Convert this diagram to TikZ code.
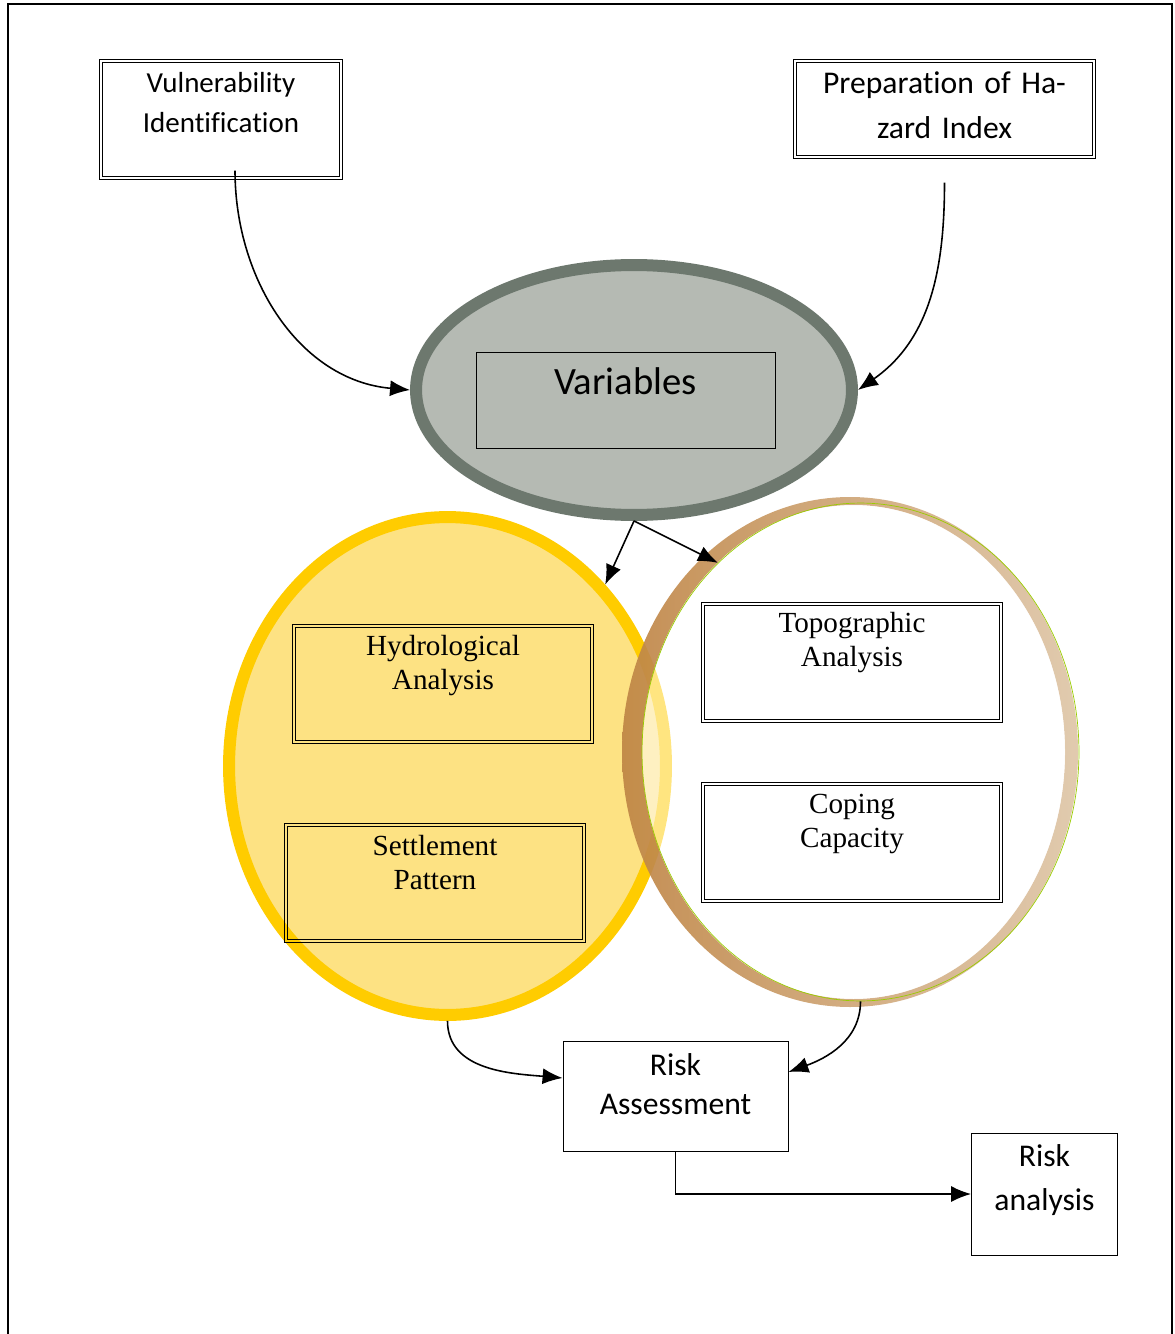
\documentclass[tikz,border=0pt]{standalone}
\usepackage{fontspec}
\setmainfont{Carlito}[Ligatures=NoCommon]
\newfontfamily\timesfont{Liberation Serif}
\usetikzlibrary{positioning, shapes.geometric, arrows.meta}
\definecolor{varfill}{HTML}{B5BAB3}
\definecolor{varline}{HTML}{6D786E}
\definecolor{hydfill}{HTML}{FDE283}
\definecolor{hydline}{HTML}{FFCC00}
\definecolor{ringbrown}{HTML}{BF8545}
\definecolor{ringtan}{HTML}{DEC6A8}
\definecolor{ringgreen}{HTML}{99CC00}
\tikzset{line/.style={draw, line width=0.9pt, -{Latex[length=4mm, width=3.2mm]}}}

\begin{document}
\begin{tikzpicture}[x=0.02cm, y=-0.02cm]
\tikzstyle{dblock} = [rectangle, draw, line width=0.6pt, align=center, inner sep=0pt]
\tikzstyle{block} = [rectangle, draw, line width=0.5pt, align=center, inner sep=0pt]
\tikzstyle{oval} = [ellipse, inner sep=0pt]
\tikzstyle{sans} = [font=\fontsize{18}{25.6}\selectfont]
\tikzstyle{serif} = [font=\timesfont\fontsize{16.6}{19.8}\selectfont]

\useasboundingbox (0,0) rectangle (1175,1334);
\draw[line width=1.1pt] (8,1334) -- (8,4) -- (1172,4) -- (1172,1334);

% the two overlapping circles
\node[oval, fill=hydfill, draw=hydline, line width=0.24cm, minimum width=8.74cm, minimum height=9.96cm] (hydcirc) at (447.5,766) {};
\path[left color=ringbrown, middle color=ringbrown, right color=ringtan, even odd rule, fill opacity=0.92]
  (850,752) ellipse [x radius=228, y radius=255]
  (853.5,752) ellipse [x radius=211.5, y radius=247];
\path[fill=white, fill opacity=0.5] (853.5,752) ellipse [x radius=211.5, y radius=247];
\node[oval, draw=ringgreen, line width=0.4pt, minimum width=8.74cm, minimum height=9.96cm] (topocirc) at (860.5,752) {};

\node[oval, fill=varfill, draw=varline, line width=0.24cm, minimum width=8.72cm, minimum height=5cm] (vars) at (634,390) {};
\node[block, text width=5.98cm, text height=0.84cm, text depth=1.08cm, font=\fontsize{22}{26}\selectfont] (varbox) at (625.5,400) {Variables};

\node[dblock, text width=4.86cm, text height=0.65cm, text depth=1.75cm, font=\fontsize{16.5}{23.3}\selectfont] (vuln) at (221,119.5) {Vulnerability\\Identification};
\node[dblock, sans, text width=6.04cm, text height=0.69cm, text depth=1.29cm] (hazard) at (944.5,109) {Preparation of Ha-\\zard Index};

\node[dblock, serif, text width=6.02cm, text height=0.61cm, text depth=1.77cm] (hydro) at (443,684) {Hydrological\\Analysis};
\node[dblock, serif, text width=6.02cm, text height=0.63cm, text depth=1.75cm] (settle) at (435,883) {Settlement\\Pattern};
\node[dblock, serif, text width=6.02cm, text height=0.59cm, text depth=1.81cm] (topo) at (852,662.5) {Topographic\\Analysis};
\node[dblock, serif, below=1.18cm of topo, text width=6.02cm, text height=0.61cm, text depth=1.79cm] (coping) {Coping\\Capacity};

% inner line of the double frames
\foreach \n in {vuln, hazard, hydro, settle, topo, coping}
  \draw[line width=0.6pt] ([shift={(0.065cm,-0.065cm)}]\n.north west) rectangle ([shift={(-0.065cm,0.065cm)}]\n.south east);

\node[block, text width=4.5cm, text height=0.68cm, text depth=1.52cm, font=\fontsize{18}{22.2}\selectfont] (riska) at (675.5,1096) {Risk\\Assessment};
\node[block, sans, text width=2.92cm, text height=0.66cm, text depth=1.78cm] (riskan) at (1044.5,1194) {Risk\\analysis};

\path [line] ([xshift=0.28cm, yshift=0.19cm]vuln.south) to[out=-90, in=175] (vars.west);
\path [line] ([yshift=-0.47cm]hazard.south) to[out=-90, in=35] (vars.east);
\path [line] (vars.south) -- (hydcirc.49);
\path [line] (vars.south) -- (topocirc.127);
\path [line] (hydcirc.south) to[out=-90, in=175] ([yshift=0.36cm]riska.west);
\path [line] (topocirc.south) to[out=-90, in=20] ([yshift=0.48cm]riska.east);
\path [line] (riska.south) |- (riskan.west);

\end{tikzpicture}
\end{document}
